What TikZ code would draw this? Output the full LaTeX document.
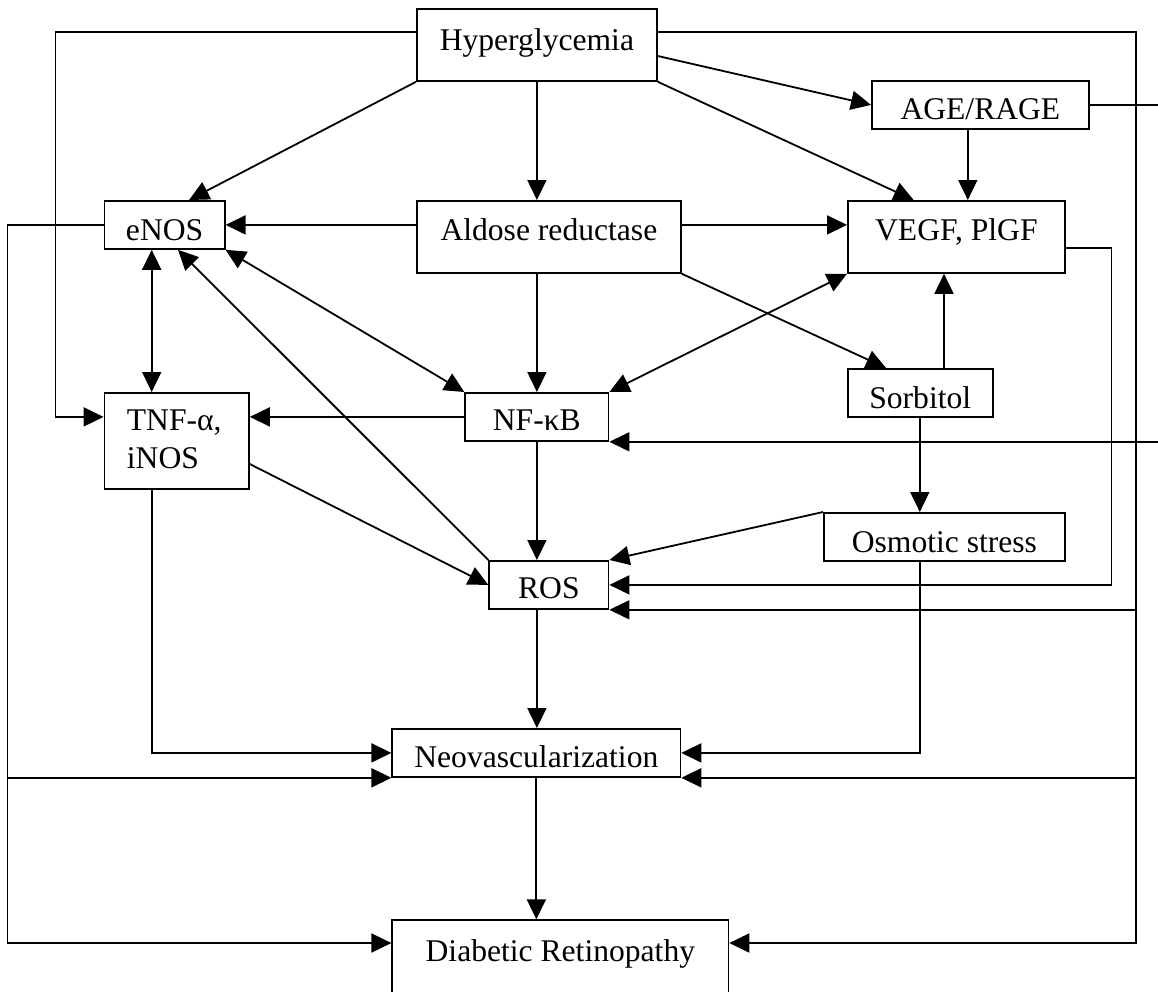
\documentclass[tikz,border=0pt]{standalone}
\usepackage{fontspec}
\setmainfont{Liberation Serif}
\usetikzlibrary{arrows.meta,calc}
\begin{document}
\begin{tikzpicture}[x=1pt,y=-1pt,
  bx/.style={draw,line width=1.8pt,inner sep=0pt,anchor=north west,font=\fontsize{31.6}{38}\selectfont},
  arr/.style={line width=1.8pt,-{Triangle[length=20pt,width=19pt]}},
  darr/.style={line width=1.8pt,{Triangle[length=20pt,width=19pt]}-{Triangle[length=20pt,width=19pt]}}]
\useasboundingbox (0,0) rectangle (1158,991);
\clip (0,0) rectangle (1158,991);
% boxes
\node[bx,minimum width=240pt,text height=42pt,text depth=30pt] (hyp) at (416,8) {Hyperglycemia};
\node[bx,minimum width=120.2pt,text height=40pt,text depth=8pt] (enos) at (103.6,200) {eNOS\hspace{5pt}};
\node[bx,minimum width=264pt,text height=40pt,text depth=32pt] (ald) at (416,200) {Aldose reductase};
\node[bx,minimum width=217pt,text height=39pt,text depth=9pt] (age) at (871,80) {AGE/RAGE\hspace{9pt}};
\node[bx,minimum width=217pt,text height=40pt,text depth=32pt] (vegf) at (847,200) {VEGF, PlGF};
\node[bx,minimum width=144.4pt,text height=38pt,text depth=58pt] (tnf) at (103.6,392) {\begin{tabular}[t]{@{\hspace{22.4pt}}p{122pt}@{}}TNF-α,\\iNOS\end{tabular}};
\node[bx,minimum width=143.3pt,text height=38pt,text depth=10pt] (nfkb) at (464.3,392) {NF-κB\hspace{15pt}};
\node[bx,minimum width=119.3pt,text height=38pt,text depth=10pt] (ros) at (488.3,560) {ROS\hspace{20pt}};
\node[bx,minimum width=144.7pt,text height=40pt,text depth=8pt] (sorb) at (847,368) {Sorbitol};
\node[bx,minimum width=241pt,text height=40pt,text depth=8pt] (osm) at (823,512) {Osmotic stress};
\node[bx,minimum width=288.1pt,text height=39pt,text depth=9pt] (neo) at (391.4,728) {Neovascularization};
\node[bx,minimum width=336.1pt,text height=41.4pt,text depth=80pt] (dr) at (391.4,919.3) {Diabetic Retinopathy};
% helper coordinates
\coordinate (ya) at (0,32);
\coordinate (yb) at (0,56);
\coordinate (yc) at (0,248);
\coordinate (yd) at (0,464);
\coordinate (ye) at (0,943);
\coordinate (xa) at (55.5,0);
\coordinate (xb) at (7.4,0);
\coordinate (xc) at (151.7,0);
\coordinate (xd) at (1136,0);
\coordinate (xe) at (1111.5,0);
\coordinate (xf) at (1165,0);
\coordinate (xg) at (919.8,0);
\coordinate (xh) at (944,0);
\coordinate (xi) at (886,0);
\coordinate (xj) at (189,0);
\coordinate (xk) at (913.6,0);
\coordinate (xl) at (967.8,0);
\coordinate (xm) at (178,0);
% connectors
\draw[arr] (hyp.west |- ya) -| (xa |- nfkb.west) -- (tnf.west |- nfkb.west);
\draw[arr] (hyp.east |- ya) -| (xd |- ye) -- (dr.east |- ye);
\draw[arr] (xd |- neo.south) -- (neo.south east);
\draw[arr] (xd |- ros.south) -- (ros.south east);
\draw[arr] (enos.west) -| (xb |- ye) -- (dr.west |- ye);
\draw[arr] (xb |- neo.south) -- (neo.south west);
\draw[arr] (age.east) -| (xf |- nfkb.south) -- (nfkb.south east);
\draw[arr] (vegf.east |- yc) -| (xe |- ros.east) -- (ros.east);
\draw[arr] (osm.north west) -- (ros.north east);
\draw[arr] (xg |- osm.south) |- (neo.east);
\draw[arr] (xg |- sorb.south) -- (xg |- osm.north);
\draw[arr] (xh |- sorb.north) -- (xh |- vegf.south);
\draw[arr] (ald.south east) -- (xi |- sorb.north);
\draw[darr] (vegf.south west) -- (nfkb.north east);
\draw[arr] (ald.east |- enos.east) -- (vegf.west |- enos.east);
\draw[arr] (ald.west |- enos.east) -- (enos.east);
\draw[arr] (hyp.south) -- (hyp.south |- ald.north);
\draw[arr] (hyp.south |- ald.south) -- (hyp.south |- nfkb.north);
\draw[arr] (hyp.south |- nfkb.south) -- (hyp.south |- ros.north);
\draw[arr] (hyp.south |- ros.south) -- (hyp.south |- neo.north);
\draw[arr] (neo.south) -- (neo.south |- dr.north);
\draw[arr] (hyp.south west) -- (xj |- enos.north);
\draw[arr] (hyp.east |- yb) -- (age.west);
\draw[arr] (hyp.south east) -- (xk |- vegf.north);
\draw[arr] (xl |- age.south) -- (xl |- vegf.north);
\draw[darr] (xc |- enos.south) -- (xc |- tnf.north);
\draw[arr] (ros.north west) -- (xm |- enos.south);
\draw[darr] (enos.south east) -- (nfkb.north west);
\draw[arr] (nfkb.west) -- (tnf.east |- nfkb.west);
\draw[arr] (tnf.east |- yd) -- (ros.west);
\draw[arr] (xc |- tnf.south) |- (neo.west);
\end{tikzpicture}
\end{document}
